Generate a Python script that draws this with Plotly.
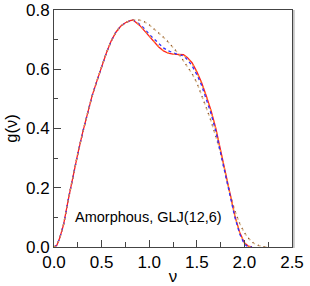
import plotly.graph_objects as go

# frequency grid (nu) and g(nu) curves
nu_solid = [0.0, 0.03, 0.06, 0.1, 0.15, 0.2, 0.25, 0.3, 0.35, 0.4, 0.45, 0.5, 0.55, 0.6, 0.65, 0.7, 0.75, 0.8, 0.83,
            0.9, 0.95, 1.0, 1.05, 1.1, 1.15, 1.2, 1.25, 1.3, 1.36, 1.4, 1.45, 1.5, 1.55, 1.6, 1.65, 1.7, 1.75,
            1.8, 1.85, 1.9, 1.95, 2.0, 2.04, 2.08]
g_red = [0.0, 0.006, 0.03, 0.075, 0.16, 0.24, 0.315, 0.385, 0.45, 0.51, 0.56, 0.61, 0.655, 0.695, 0.725, 0.745, 0.757, 0.764, 0.766,
         0.748, 0.73, 0.71, 0.692, 0.675, 0.662, 0.654, 0.651, 0.65, 0.649, 0.64, 0.622, 0.592, 0.555, 0.51, 0.46, 0.40, 0.325,
         0.245, 0.175, 0.105, 0.05, 0.014, 0.003, 0.0]
g_blue = [0.0, 0.006, 0.03, 0.075, 0.16, 0.24, 0.315, 0.385, 0.45, 0.51, 0.56, 0.61, 0.655, 0.695, 0.725, 0.745, 0.757, 0.764, 0.766,
          0.752, 0.737, 0.718, 0.702, 0.686, 0.672, 0.662, 0.655, 0.65, 0.645, 0.633, 0.612, 0.582, 0.546, 0.50, 0.45, 0.39, 0.318,
          0.24, 0.17, 0.10, 0.045, 0.009, 0.001, 0.0]
g_orange = [0.0, 0.006, 0.03, 0.075, 0.16, 0.24, 0.315, 0.385, 0.45, 0.51, 0.56, 0.61, 0.655, 0.695, 0.725, 0.745, 0.757, 0.764, 0.766,
            0.749, 0.731, 0.712, 0.694, 0.677, 0.663, 0.655, 0.651, 0.65, 0.648, 0.638, 0.62, 0.59, 0.553, 0.508, 0.458, 0.398, 0.323,
            0.243, 0.173, 0.104, 0.049, 0.013, 0.002, 0.0]

nu_dot = [0.0, 0.03, 0.06, 0.1, 0.15, 0.2, 0.25, 0.3, 0.35, 0.4, 0.45, 0.5, 0.55, 0.6, 0.65, 0.7, 0.75, 0.8, 0.85,
          0.9, 0.95, 1.0, 1.05, 1.1, 1.15, 1.2, 1.25, 1.3, 1.35, 1.4, 1.45, 1.5, 1.55, 1.6, 1.65, 1.7, 1.75,
          1.8, 1.85, 1.9, 1.95, 2.0, 2.05, 2.1, 2.15, 2.2, 2.25]
g_dot = [0.0, 0.006, 0.03, 0.075, 0.16, 0.24, 0.315, 0.385, 0.45, 0.51, 0.56, 0.61, 0.655, 0.695, 0.725, 0.745, 0.757, 0.764, 0.767,
         0.766, 0.76, 0.75, 0.737, 0.723, 0.708, 0.692, 0.674, 0.655, 0.633, 0.61, 0.585, 0.555, 0.515, 0.47, 0.425, 0.375, 0.32,
         0.245, 0.178, 0.122, 0.08, 0.048, 0.027, 0.012, 0.005, 0.001, 0.0]

x_ticks = [0.0, 0.5, 1.0, 1.5, 2.0, 2.5]
y_ticks = [0.0, 0.2, 0.4, 0.6, 0.8]

FONT = "Liberation Sans, Arial, sans-serif"

fig = go.Figure()
fig.add_trace(go.Scatter(x=nu_dot, y=g_dot, mode="lines",
                         line=dict(color="#d9bf9a", width=1.5, dash="dot")))
fig.add_trace(go.Scatter(x=nu_dot, y=g_dot, mode="lines",
                         line=dict(color="#8b4a20", width=1.2, dash="1px,5px")))
fig.add_trace(go.Scatter(x=nu_solid, y=g_red, mode="lines",
                         line=dict(color="#ff2020", width=1.3)))
fig.add_trace(go.Scatter(x=nu_solid, y=g_blue, mode="lines",
                         line=dict(color="#3030ff", width=1.3, dash="3px,3px")))
fig.add_trace(go.Scatter(x=nu_solid, y=g_orange, mode="lines",
                         line=dict(color="#ff9a30", width=1.2, dash="2px,4px")))

fig.add_annotation(x=0.2, y=0.1, xref="x", yref="y", text="Amorphous, GLJ(12,6)",
                   showarrow=False, xanchor="left", yanchor="middle",
                   font=dict(family=FONT, size=14.5, color="#000"))

# light shadow of the frame on the right
fig.add_shape(type="line", xref="paper", yref="paper", x0=1.008, x1=1.008, y0=-0.004, y1=1.0,
              line=dict(color="#bbbbbb", width=1.5))

axis_common = dict(showgrid=False, zeroline=False, showline=True, mirror=True,
                   linecolor="#444444", linewidth=1, ticks="inside", ticklen=7,
                   tickcolor="#444444", tickwidth=1, automargin=False,
                   tickfont=dict(family=FONT, size=17, color="#000"),
                   tickformat=".1f")

fig.update_xaxes(range=[0, 2.5], tickvals=x_ticks,
                 minor=dict(dtick=0.25, ticks="inside", ticklen=5, tickcolor="#444444"),
                 title=dict(text="ν", standoff=0,
                            font=dict(family=FONT, size=17, color="#000")),
                 **axis_common)
fig.update_yaxes(range=[0, 0.8], tickvals=y_ticks,
                 minor=dict(dtick=0.1, ticks="inside", ticklen=4, tickcolor="#444444"),
                 title=dict(text="g(ν)", standoff=4,
                            font=dict(family=FONT, size=16.5, color="#000")),
                 **axis_common)

fig.update_layout(width=310, height=286, margin=dict(l=54, r=18, t=10, b=39),
                  plot_bgcolor="white", paper_bgcolor="white", showlegend=False)

fig.write_html("out.html", config={"displayModeBar": False},
               post_script="document.body.style.margin='0';")
